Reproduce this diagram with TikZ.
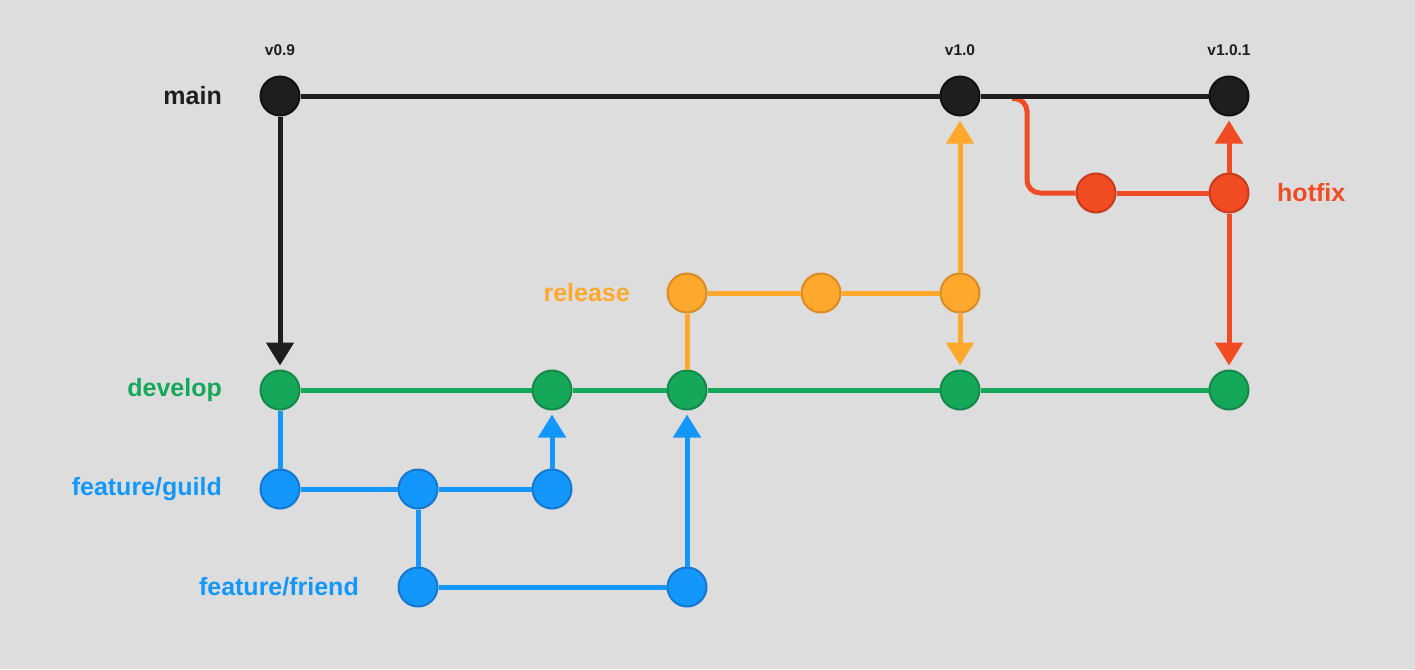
\documentclass[tikz,border=0pt]{standalone}
\usepackage{fontspec}
\setmainfont{Liberation Sans}
\usetikzlibrary{arrows.meta}

\definecolor{bg}{HTML}{DDDDDD}
\definecolor{cmain}{HTML}{1E1E1E}
\definecolor{cmainb}{HTML}{111111}
\definecolor{cdev}{HTML}{16A85A}
\definecolor{cdevb}{HTML}{12894A}
\definecolor{cfeat}{HTML}{1497FA}
\definecolor{cfeatb}{HTML}{1478D2}
\definecolor{crel}{HTML}{FFA82E}
\definecolor{crelb}{HTML}{D98C22}
\definecolor{chot}{HTML}{F04B23}
\definecolor{chotb}{HTML}{C93C1A}

\tikzset{
  commit/.style={circle, minimum size=39pt, inner sep=0pt, line width=2pt},
  mainbox/.style={commit, fill=cmain, draw=cmainb},
  devbox/.style={commit, fill=cdev, draw=cdevb},
  featbox/.style={commit, fill=cfeat, draw=cfeatb},
  relbox/.style={commit, fill=crel, draw=crelb},
  hotbox/.style={commit, fill=chot, draw=chotb},
  branch/.style={line width=5pt},
  merge/.style={line width=5pt, shorten >=4pt, -{Triangle[length=23pt,width=27pt]}},
  blabel/.style={font=\bfseries\fontsize{25}{30}\selectfont, inner sep=0pt},
  vlabel/.style={font=\bfseries\fontsize{15.5}{18}\selectfont, inner sep=0pt},
}

\begin{document}
\begin{tikzpicture}[x=1pt, y=-1pt]
  \path[fill=bg] (0,0) rectangle (1415,669);

  % commits
  \node[mainbox] (m1) at (280,96) {};
  \node[mainbox] (m2) at (960,96) {};
  \node[mainbox] (m3) at (1229,96) {};

  \node[hotbox] (h1) at (1096,193) {};
  \node[hotbox] (h2) at (1229,193) {};

  \node[relbox] (r1) at (687,293) {};
  \node[relbox] (r2) at (821,293) {};
  \node[relbox] (r3) at (960,293) {};

  \node[devbox] (d1) at (280,390) {};
  \node[devbox] (d2) at (552,390) {};
  \node[devbox] (d3) at (687,390) {};
  \node[devbox] (d4) at (960,390) {};
  \node[devbox] (d5) at (1229,390) {};

  \node[featbox] (g1) at (280,489) {};
  \node[featbox] (g2) at (418,489) {};
  \node[featbox] (g3) at (552,489) {};

  \node[featbox] (f1) at (418,587) {};
  \node[featbox] (f2) at (687,587) {};

  % branch names
  \node[blabel, text=cmain, anchor=east] (lmain) at (222,96) {main};
  \node[blabel, text=chot, anchor=west] (lhot) at (1277,193) {hotfix};
  \node[blabel, text=crel, anchor=east] (lrel) at (630,293) {release};
  \node[blabel, text=cdev, anchor=east] (ldev) at (222,390) {develop};
  \node[blabel, text=cfeat, anchor=east] (lguild) at (222,489) {feature/guild};
  \node[blabel, text=cfeat, anchor=east] (lfriend) at (359,587) {feature/friend};

  % tags
  \node[vlabel, text=cmain] (t1) at (280,50) {v0.9};
  \node[vlabel, text=cmain] (t2) at (960,50) {v1.0};
  \node[vlabel, text=cmain] (t3) at (1229,50) {v1.0.1};

  % hotfix branch leaves main just after v1.0
  \coordinate (hfork) at (1012,98.5);
  \coordinate (hbend) at (1027,193);
  \draw[branch, chot, rounded corners=13pt] (hfork) -| (hbend) -- (h1);
  \draw[branch, chot] (h1) -- (h2);

  % main
  \draw[branch, cmain] (m1) -- (m2);
  \draw[branch, cmain] (m2) -- (m3);
  \draw[merge, cmain] (m1) -- (d1);

  % develop
  \draw[branch, cdev] (d1) -- (d2);
  \draw[branch, cdev] (d2) -- (d3);
  \draw[branch, cdev] (d3) -- (d4);
  \draw[branch, cdev] (d4) -- (d5);

  % feature/guild
  \draw[branch, cfeat] (d1) -- (g1);
  \draw[branch, cfeat] (g1) -- (g2);
  \draw[branch, cfeat] (g2) -- (g3);
  \draw[merge, cfeat] (g3) -- (d2);

  % feature/friend
  \draw[branch, cfeat] (g2) -- (f1);
  \draw[branch, cfeat] (f1) -- (f2);
  \draw[merge, cfeat] (f2) -- (d3);

  % release
  \draw[branch, crel] (d3) -- (r1);
  \draw[branch, crel] (r1) -- (r2);
  \draw[branch, crel] (r2) -- (r3);
  \draw[merge, crel] (r3) -- (m2);
  \draw[merge, crel] (r3) -- (d4);

  % hotfix merges
  \draw[merge, chot] (h2) -- (m3);
  \draw[merge, chot] (h2) -- (d5);
\end{tikzpicture}
\end{document}
